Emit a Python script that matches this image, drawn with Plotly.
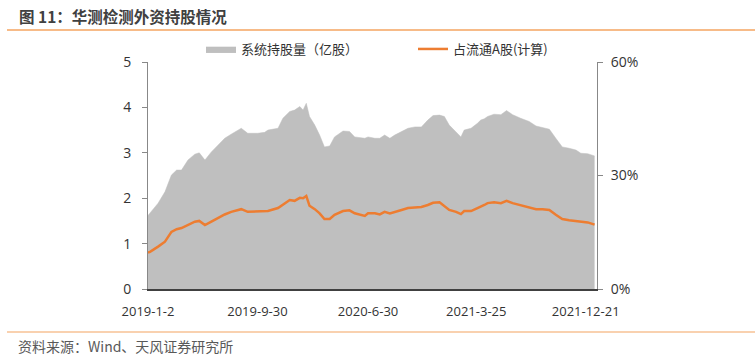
import plotly.graph_objects as go

dates = ["2019-01-02","2019-01-07","2019-01-27","2019-02-13","2019-03-01","2019-03-14","2019-03-26",
         "2019-04-11","2019-04-28","2019-05-09","2019-05-23","2019-06-08","2019-06-24","2019-07-11",
         "2019-07-27","2019-08-21","2019-09-06","2019-10-01","2019-10-18","2019-10-26","2019-11-20",
         "2019-12-02","2019-12-19","2019-12-31","2020-01-13","2020-01-21","2020-01-29","2020-02-06",
         "2020-02-19","2020-03-02","2020-03-14","2020-03-27","2020-04-08","2020-04-29","2020-05-15",
         "2020-05-28","2020-06-22","2020-06-30","2020-07-17","2020-07-29","2020-08-10","2020-08-23",
         "2020-09-04","2020-09-21","2020-10-07","2020-10-24","2020-11-09","2020-11-25","2020-12-08",
         "2020-12-24","2021-01-05","2021-01-17","2021-02-03","2021-02-15","2021-02-23","2021-03-12",
         "2021-03-28","2021-04-05","2021-04-14","2021-04-22","2021-05-08","2021-05-25","2021-06-08",
         "2021-06-23","2021-07-13","2021-08-03","2021-08-20","2021-09-05","2021-09-22","2021-10-08",
         "2021-10-24","2021-11-10","2021-11-27","2021-12-09","2021-12-26","2022-01-12"]

holdings = [1.62,1.67,1.89,2.14,2.51,2.62,2.62,2.84,2.97,3.00,2.84,3.02,3.17,3.32,3.41,3.54,3.43,3.43,
            3.45,3.50,3.54,3.76,3.91,3.94,4.02,3.94,4.09,3.80,3.61,3.39,3.13,3.15,3.35,3.48,3.47,3.35,
            3.32,3.35,3.32,3.32,3.39,3.32,3.39,3.46,3.54,3.57,3.57,3.72,3.82,3.83,3.80,3.61,3.46,3.35,
            3.50,3.54,3.65,3.72,3.75,3.80,3.85,3.84,3.93,3.84,3.76,3.69,3.59,3.56,3.52,3.32,3.13,3.10,
            3.06,2.99,2.98,2.93]

float_pct = [9.6,9.8,11.2,12.5,15.1,15.8,16.1,17.0,17.8,18.0,16.9,17.8,18.8,19.7,20.4,21.1,20.4,20.5,
             20.6,20.6,21.4,22.2,23.5,23.3,24.1,24.0,24.6,22.0,21.1,20.0,18.5,18.5,19.6,20.6,20.8,20.0,
             19.3,20.0,20.0,19.7,20.4,20.0,20.3,20.9,21.4,21.6,21.7,22.2,22.8,22.9,21.8,20.9,20.4,19.8,
             20.6,20.6,21.4,21.7,22.2,22.7,22.9,22.7,23.3,22.7,22.2,21.6,21.1,21.1,20.9,19.6,18.5,18.2,
             18.0,17.8,17.6,17.0]

tick_dates = ["2019-01-02","2019-09-30","2020-06-30","2021-03-25","2021-12-21"]
tick_text = ["2019-1-2","2019-9-30","2020-6-30","2021-3-25","2021-12-21"]

left_ticks = [0, 1, 2, 3, 4, 5]
right_ticks = [0, 30, 60]
right_text = ["0%", "30%", "60%"]

FONT = "Open Sans, Noto Sans CJK SC, sans-serif"
CJK = "Noto Sans CJK SC, sans-serif"
PW, PH = 449, 227

fig = go.Figure()
fig.add_trace(go.Scatter(
    x=dates, y=holdings, name="系统持股量（亿股）", mode="lines",
    fill="tozeroy", fillcolor="#bfbfbf", line=dict(color="#bfbfbf", width=0.5),
    yaxis="y", legend="legend"))
fig.add_trace(go.Scatter(
    x=dates, y=float_pct, name="占流通A股(计算)", mode="lines",
    line=dict(color="#ed7d31", width=2.5), yaxis="y2", legend="legend2"))

leg_common = dict(orientation="h", xanchor="left", yanchor="middle", y=1 + (62-49)/PH,
                  font=dict(family=CJK, size=13, color="#333333"),
                  bgcolor="rgba(0,0,0,0)", itemwidth=30, borderwidth=0)

fig.update_layout(
    width=755, height=356,
    margin=dict(l=148, r=158, t=62, b=67),
    paper_bgcolor="white", plot_bgcolor="white",
    font=dict(family=FONT, size=13, color="#333333"),
    showlegend=True,
    legend=dict(x=(201-148)/PW, **leg_common),
    legend2=dict(x=(413-148)/PW, **leg_common),
    xaxis=dict(type="date", range=["2019-01-02", "2022-01-18"],
               tickvals=tick_dates, ticktext=tick_text, showgrid=False,
               showline=True, linecolor="#404040", linewidth=1.5,
               ticks="", ticklabelstandoff=10,
               tickfont=dict(size=13, color="#333333"), zeroline=False),
    yaxis=dict(range=[0, 5], tickvals=left_ticks, showgrid=False, zeroline=False,
               showline=True, linecolor="#888888", linewidth=1,
               ticks="outside", ticklen=5, tickcolor="#888888", ticklabelstandoff=8,
               tickfont=dict(size=14, color="#333333")),
    yaxis2=dict(range=[0, 60], tickvals=right_ticks, ticktext=right_text,
                overlaying="y", side="right", showgrid=False, zeroline=False,
                showline=True, linecolor="#888888", linewidth=1,
                ticks="outside", ticklen=5, tickcolor="#888888", ticklabelstandoff=5,
                tickfont=dict(size=14, color="#333333")),
)

fig.add_annotation(text="<b>图 11：华测检测外资持股情况</b>", xref="paper", yref="paper",
                   x=-148/PW + 17/PW, xanchor="left", y=1 + (62-16)/PH, yanchor="middle",
                   showarrow=False, font=dict(family=CJK, size=15.5, color="#404040"))
fig.add_annotation(text="资料来源：Wind、天风证券研究所", xref="paper", yref="paper",
                   x=-148/PW + 16/PW, xanchor="left", y=-(346-289)/PH, yanchor="middle",
                   showarrow=False, font=dict(family=CJK, size=14, color="#595959"))
fig.add_shape(type="line", xref="paper", yref="paper",
              x0=-148/PW + 7/PW, x1=1 + 158/PW, y0=1 + (62-30)/PH, y1=1 + (62-30)/PH,
              line=dict(color="#f4a460", width=1.5))
fig.add_shape(type="line", xref="paper", yref="paper",
              x0=-148/PW + 7/PW, x1=1 + 158/PW, y0=-(332-289)/PH, y1=-(332-289)/PH,
              line=dict(color="#f4a460", width=1.2))

fig.write_html("out.html", config={"displayModeBar": False},
               post_script="document.body.style.margin='0';document.body.style.overflow='hidden';")
